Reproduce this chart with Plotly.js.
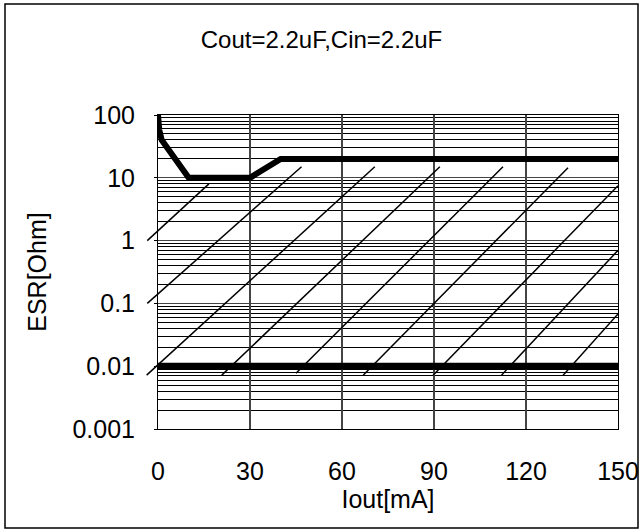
<!DOCTYPE html>
<html>
<head>
<meta charset="utf-8">
<script src="https://cdn.plot.ly/plotly-3.0.1.min.js"></script>
<style>
  html, body { margin: 0; padding: 0; background: #fff; }
  #chart { width: 643px; height: 530px; }
</style>
</head>
<body>
<div id="chart"></div>
<script>
// ---- data ----
const chartTitle = 'Cout=2.2uF,Cin=2.2uF';
const xTitle = 'Iout[mA]';
const yTitle = 'ESR[Ohm]';

const xTickVals = [0, 30, 60, 90, 120, 150];
const yTickVals = [0.001, 0.01, 0.1, 1, 10, 100];
const yTickText = ['0.001', '0.01', '0.1', '1', '10', '100'];

// upper stability boundary
const upperIout = [0, 0.4, 1.2, 10, 30, 40, 150];
const upperEsr  = [100, 58, 40, 10, 10, 20, 20];

// lower stability boundary
const lowerIout = [0, 150];
const lowerEsr  = [0.01, 0.01];

// hatch lines marking the stable region (start / end points)
const hatchX0 = [-3.5, -3.5, -3.7, 20.8, 45.0, 66.9, 89.7, 112.0, 132.1];
const hatchY0 = [1.0, 0.1, 0.0072, 0.0072, 0.0077, 0.0072, 0.0072, 0.0072, 0.0072];
const hatchX1 = [16.6, 46.8, 70.7, 91.9, 112.5, 133.7, 150, 150, 150];
const hatchY1 = [8.0, 15, 15, 15, 15, 14.5, 7.5, 0.7, 0.068];

// ---- build traces ----
const hx = [], hy = [];
for (let i = 0; i < hatchX0.length; i++) {
  hx.push(hatchX0[i], hatchX1[i], null);
  hy.push(hatchY0[i], hatchY1[i], null);
}

const FONT = '"Liberation Sans", Arial, sans-serif';

const traces = [
  {
    x: upperIout, y: upperEsr, type: 'scatter', mode: 'lines',
    line: { color: '#000', width: 6, shape: 'linear' },
    xaxis: 'x', yaxis: 'y', hoverinfo: 'skip', showlegend: false
  },
  {
    x: lowerIout, y: lowerEsr, type: 'scatter', mode: 'lines',
    line: { color: '#000', width: 7 },
    xaxis: 'x', yaxis: 'y', hoverinfo: 'skip', showlegend: false
  },
  {
    x: hx, y: hy, type: 'scatter', mode: 'lines',
    line: { color: '#000', width: 1.5 },
    connectgaps: false,
    xaxis: 'x2', yaxis: 'y2', hoverinfo: 'skip', showlegend: false
  }
];

const mL = 140, mR = 25, mT = 115, mB = 101;
const plotW = 643 - mL - mR;           // width of paper area
const mainW = 460;                      // width of the main plot area
const xMin = 0, xMax = 150;
const pxPerUnit = mainW / (xMax - xMin);
const x2Min = xMax - plotW / pxPerUnit;

const layout = {
  width: 643, height: 530,
  margin: { l: mL, r: mR, t: mT, b: mB, pad: 0 },
  paper_bgcolor: '#ffffff',
  plot_bgcolor: 'rgba(0,0,0,0)',
  font: { family: FONT, size: 25, color: '#000' },
  showlegend: false,
  title: {
    text: chartTitle,
    font: { family: FONT, size: 24, color: '#000' },
    xref: 'container', yref: 'container',
    x: 0.5, xanchor: 'center',
    y: 1 - 40 / 530, yanchor: 'middle'
  },
  xaxis: {
    domain: [(plotW - mainW) / plotW, 1],
    range: [xMin, xMax],
    anchor: 'y',
    tickmode: 'array', tickvals: xTickVals,
    ticks: 'outside', ticklen: 20, tickcolor: 'rgba(0,0,0,0)',
    tickfont: { family: FONT, size: 25, color: '#000' },
    showgrid: true, gridcolor: '#444', gridwidth: 1.3,
    zeroline: false,
    showline: true, mirror: true, linecolor: '#000', linewidth: 1,
    title: { text: xTitle, font: { family: FONT, size: 25, color: '#000' }, standoff: 4 }
  },
  yaxis: {
    type: 'log',
    range: [-3, 2],
    domain: [0, 1],
    anchor: 'x',
    tickmode: 'array', tickvals: yTickVals, ticktext: yTickText,
    ticks: 'outside', ticklen: 3, tickcolor: '#000', tickwidth: 1,
    ticklabelstandoff: 14,
    tickfont: { family: FONT, size: 25, color: '#000' },
    showgrid: true, gridcolor: '#444', gridwidth: 1.3,
    minor: { dtick: 'D1', showgrid: true, gridcolor: '#000', gridwidth: 1, ticks: '' },
    zeroline: false,
    showline: true, mirror: true, linecolor: '#000', linewidth: 1,
    title: { text: yTitle, font: { family: FONT, size: 25, color: '#000' }, standoff: 18 }
  },
  xaxis2: {
    domain: [0, 1], range: [x2Min, xMax], anchor: 'y2',
    visible: false, showgrid: false, zeroline: false
  },
  yaxis2: {
    type: 'log', domain: [0, 1], range: [-3, 2], anchor: 'x2',
    visible: false, showgrid: false, zeroline: false
  },
  shapes: [
    {
      type: 'rect', xref: 'paper', yref: 'paper',
      x0: (5 - mL) / plotW, x1: (638 - mL) / plotW,
      y0: -(528 - (530 - mB)) / (530 - mT - mB), y1: ((530 - mB) - 4) / (530 - mT - mB),
      line: { color: '#000', width: 1.5 }, fillcolor: 'rgba(0,0,0,0)', layer: 'above'
    }
  ]
};

Plotly.newPlot('chart', traces, layout, { displayModeBar: false, staticPlot: true });
</script>
</body>
</html>
